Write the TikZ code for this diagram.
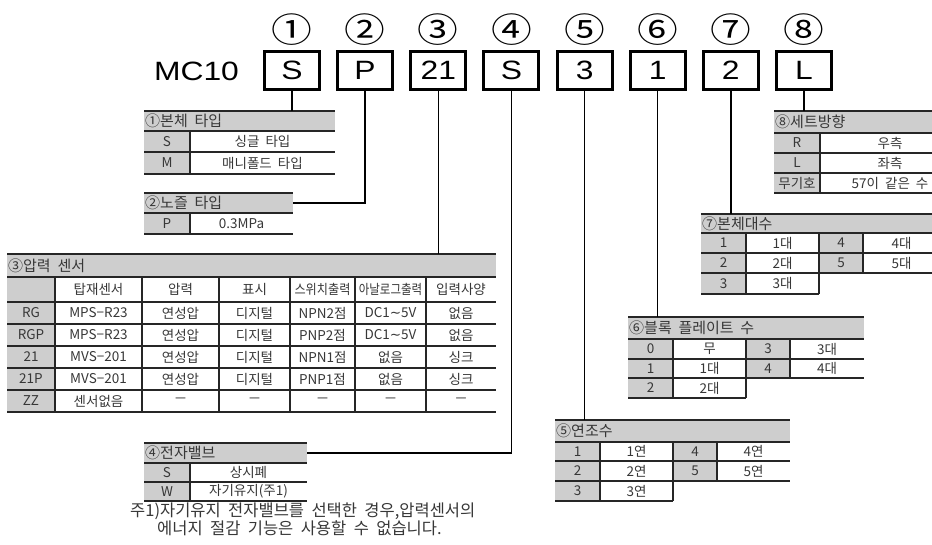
\documentclass[tikz,border=0pt]{standalone}
\usepackage{fontspec}
\usepackage{graphicx}
\setmainfont[WordSpace=2]{Noto Sans CJK KR}
\newfontfamily\bigfont[FakeStretch=1.2]{Liberation Sans}
\newfontfamily\circfont[FakeStretch=1.2]{Noto Sans CJK KR}
\newfontfamily\symfont{DejaVu Sans}
\definecolor{hdrgray}{RGB}{206,206,206}
\definecolor{txtgray}{RGB}{55,55,55}
\newcommand\tfont{\fontsize{13.5}{15}\selectfont}
\newcommand\hfont{\fontsize{15}{17}\selectfont}
\newcommand\nfont{\fontsize{16.5}{19}\selectfont}
\newcommand\wtilde{{\symfont ∼}}
\newcount\cellno
\newcommand\tcell[3]{%
  \global\advance\cellno by 1
  \node[txt] (cell\the\cellno) at (#1,#2) {#3};}
\newcommand\krow[7]{%
  \fill[hdrgray] (#1,#4+1) rectangle (#2,#5-1);
  \draw[tline] (#1,#5) -- (#3,#5);
  \draw[tline] (#2,#4) -- (#2,#5);
  \tcell{{(#1+#2)/2}}{{(#4+#5)/2}}{#6}
  \tcell{{(#2+#3)/2}}{{(#4+#5)/2}}{#7}}
\newcommand\thead[6]{%
  \node[hdrbox, minimum width={#3-#2}, minimum height={#5-#4}, anchor=north west] (#1) at (#2,#4) {};
  \draw[tline] (#1.north west) -- (#1.north east);
  \draw[tline] (#1.south west) -- (#1.south east);
  \node[txt, font=\hfont, anchor=west] (#1t) at ([xshift=1pt]#1.west) {#6};}
\newcommand\trow[9]{%
  \fill[hdrgray] (7,#1+1) rectangle (55,#2-1);
  \draw[tline] (7,#2) -- (496,#2);
  \tcell{31}{{(#1+#2)/2}}{#3}
  \tcell{98.5}{{(#1+#2)/2}}{#4}
  \tcell{180.5}{{(#1+#2)/2}}{#5}
  \tcell{254.5}{{(#1+#2)/2}}{#6}
  \tcell{322.5}{{(#1+#2)/2}}{#7}
  \tcell{390.5}{{(#1+#2)/2}}{#8}
  \tcell{461}{{(#1+#2)/2}}{#9}}
\begin{document}
\begin{tikzpicture}[x=1pt,y=-1pt,
  txt/.style={font=\tfont, text=txtgray, inner sep=0pt},
  hdrbox/.style={fill=hdrgray, draw=none, inner sep=0pt, outer sep=0pt},
  tline/.style={line width=2pt, black!85},
  conn/.style={line width=1.5pt, black},
  codebox/.style={draw, line width=3pt, minimum width=55pt, minimum height=38pt, inner sep=0pt,
    font=\bigfont\fontsize{26.5}{30}\selectfont},
  circnum/.style={inner sep=0pt, font=\circfont\fontsize{34}{36}\selectfont}]
\useasboundingbox (0,0) rectangle (932,544);
\clip (0,0) rectangle (932,544);

% ---- code row ----
\node[inner sep=0pt, font=\bigfont\fontsize{26.5}{30}\selectfont] (mc) at (196.5,71) {MC10};
\node[codebox] (b1) at (292,70.5) {S};
\node[codebox] (b2) at (365.1,70.5) {P};
\node[codebox] (b3) at (438.3,70.5) {21};
\node[codebox] (b4) at (511.4,70.5) {S};
\node[codebox] (b5) at (584.6,70.5) {3};
\node[codebox] (b6) at (657.7,70.5) {1};
\node[codebox] (b7) at (730.8,70.5) {2};
\node[codebox] (b8) at (804,70.5) {L};
\node[circnum] (n1) at (292,30) {①};
\node[circnum] (n2) at (365.1,30) {②};
\node[circnum] (n3) at (438.3,30) {③};
\node[circnum] (n4) at (511.4,30) {④};
\node[circnum] (n5) at (584.6,30) {⑤};
\node[circnum] (n6) at (657.7,30) {⑥};
\node[circnum] (n7) at (730.8,30) {⑦};
\node[circnum] (n8) at (804,30) {⑧};

% ---- table 1 ----
\thead{h1}{144}{335}{111}{131}{①본체 타입}
\krow{144}{190}{335}{131}{152}{S}{싱글 타입}
\krow{144}{190}{335}{152}{174}{M}{매니폴드 타입}

% ---- table 2 ----
\thead{h2}{144}{293}{193}{213}{②노즐 타입}
\krow{144}{190}{293}{213}{234}{P}{0.3MPa}

% ---- table 3 ----
\thead{h3}{7}{496}{254}{277}{③압력 센서}
\fill[hdrgray] (7,278) rectangle (55,301);
\draw[tline] (7,302) -- (496,302);
\tcell{98.5}{289.5}{탑재센서}
\tcell{180.5}{289.5}{압력}
\tcell{254.5}{289.5}{표시}
\tcell{322.5}{289.5}{\scalebox{0.9}[1]{스위치출력}}
\tcell{390.5}{289.5}{\scalebox{0.85}[1]{아날로그출력}}
\tcell{461}{289.5}{입력사양}
\trow{302}{324}{RG}{MPS−R23}{연성압}{디지털}{NPN2점}{DC1\wtilde 5V}{없음}
\trow{324}{346}{RGP}{MPS−R23}{연성압}{디지털}{PNP2점}{DC1\wtilde 5V}{없음}
\trow{346}{368}{21}{MVS−201}{연성압}{디지털}{NPN1점}{없음}{싱크}
\trow{368}{390}{21P}{MVS−201}{연성압}{디지털}{PNP1점}{없음}{싱크}
\trow{390}{412}{ZZ}{센서없음}{－}{－}{－}{－}{－}
\foreach \xx in {55,142,219,290,355,426} \draw[tline] (\xx,277) -- (\xx,412);

% ---- table 4 ----
\thead{h4}{144}{307}{443}{463}{④전자밸브}
\krow{144}{190}{307}{463}{482}{S}{상시폐}
\krow{144}{190}{307}{482}{501}{W}{자기유지(주1)}
\node[txt, font=\nfont, anchor=west] (note1) at (130,511) {주1)자기유지 전자밸브를 선택한 경우,압력센서의};
\node[txt, font=\nfont, anchor=west] (note2) at (157,528) {에너지 절감 기능은 사용할 수 없습니다.};

% ---- table 5 ----
\thead{h5}{555}{790}{420}{442}{⑤연조수}
\krow{555}{600}{673}{442}{461}{1}{1연}
\krow{673}{717}{790}{442}{461}{4}{4연}
\krow{555}{600}{673}{461}{481}{2}{2연}
\krow{673}{717}{790}{461}{481}{5}{5연}
\krow{555}{600}{673}{481}{501}{3}{3연}
\draw[tline] (673,442) -- (673,501);

% ---- table 6 ----
\thead{h6}{628}{864}{317}{339}{⑥블록 플레이트 수}
\krow{628}{673}{746}{339}{359}{0}{무}
\krow{746}{790}{864}{339}{359}{3}{3대}
\krow{628}{673}{746}{359}{378}{1}{1대}
\krow{746}{790}{864}{359}{378}{4}{4대}
\krow{628}{673}{746}{378}{398}{2}{2대}
\draw[tline] (746,339) -- (746,398);

% ---- table 7 ----
\thead{h7}{701}{940}{214}{233}{⑦본체대수}
\krow{701}{746}{819}{233}{253}{1}{1대}
\krow{819}{863}{940}{233}{253}{4}{4대}
\krow{701}{746}{819}{253}{273}{2}{2대}
\krow{819}{863}{940}{253}{273}{5}{5대}
\krow{701}{746}{819}{273}{294}{3}{3대}
\draw[tline] (819,233) -- (819,294);

% ---- table 8 ----
\thead{h8}{774}{960}{111}{133}{⑧세트방향}
\krow{774}{820}{960}{133}{153}{R}{우측}
\krow{774}{820}{960}{153}{173}{L}{좌측}
\krow{774}{820}{960}{173}{193}{무기호}{57이 같은 수}

% ---- connectors ----
\draw[conn] (b1.south) -- (b1.south |- h1.north);
\draw[conn] (b2.south) |- (h2.east);
\draw[conn] (b3.south) -- (b3.south |- h3.north);
\draw[conn] (b4.south) |- (h4.east);
\draw[conn] (b5.south) -- (b5.south |- h5.north);
\draw[conn] (b6.south) -- (b6.south |- h6.north);
\draw[conn] (b7.south) -- (b7.south |- h7.north);
\draw[conn] (b8.south) -- (b8.south |- h8.north);
\end{tikzpicture}
\end{document}
